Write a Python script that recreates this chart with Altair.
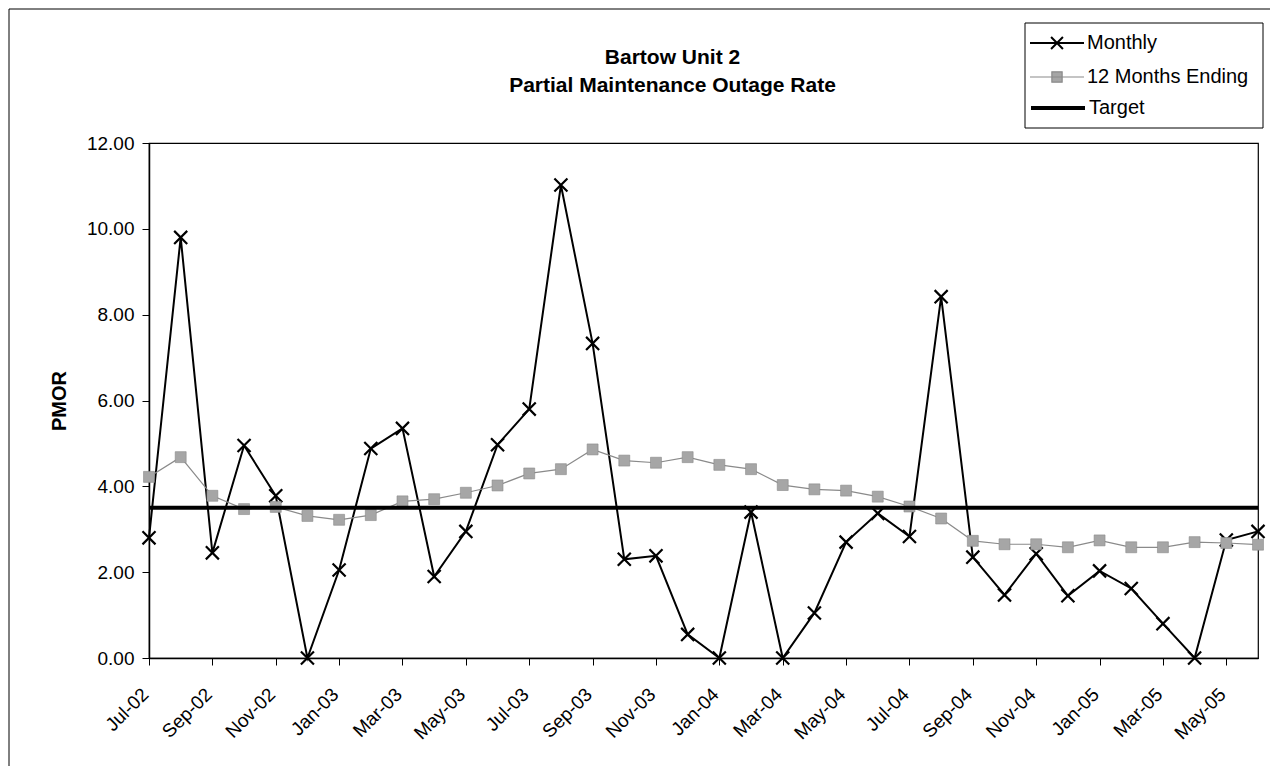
import altair as alt
import pandas as pd

months = ["Jul-02", "Aug-02", "Sep-02", "Oct-02", "Nov-02", "Dec-02",
          "Jan-03", "Feb-03", "Mar-03", "Apr-03", "May-03", "Jun-03",
          "Jul-03", "Aug-03", "Sep-03", "Oct-03", "Nov-03", "Dec-03",
          "Jan-04", "Feb-04", "Mar-04", "Apr-04", "May-04", "Jun-04",
          "Jul-04", "Aug-04", "Sep-04", "Oct-04", "Nov-04", "Dec-04",
          "Jan-05", "Feb-05", "Mar-05", "Apr-05", "May-05", "Jun-05"]

monthly = [2.80, 9.80, 2.45, 4.95, 3.78, 0.00,
           2.05, 4.88, 5.35, 1.90, 2.95, 4.97,
           5.80, 11.02, 7.33, 2.30, 2.38, 0.55,
           0.00, 3.40, 0.00, 1.05, 2.70, 3.37,
           2.83, 8.42, 2.35, 1.47, 2.43, 1.45,
           2.03, 1.62, 0.80, 0.00, 2.75, 2.95]

twelve_months = [4.22, 4.68, 3.78, 3.47, 3.52, 3.31,
                 3.22, 3.33, 3.65, 3.70, 3.85, 4.02,
                 4.30, 4.40, 4.86, 4.60, 4.55, 4.68,
                 4.50, 4.40, 4.03, 3.93, 3.90, 3.76,
                 3.53, 3.25, 2.73, 2.65, 2.65, 2.58,
                 2.74, 2.58, 2.58, 2.70, 2.68, 2.64]

target_value = 3.50
target = [target_value] * len(months)

x_tick_labels = months[::2]
y_ticks = [0, 2, 4, 6, 8, 10, 12]

df_monthly = pd.DataFrame({"month": months, "value": monthly, "series": "Monthly"})
df_twelve = pd.DataFrame({"month": months, "value": twelve_months, "series": "12 Months Ending"})
df_target = pd.DataFrame({"month": months, "value": target, "series": "Target"})

FONT = "Liberation Sans"
GRAY_LINE = "#8a8a8a"
GRAY_FILL = "#a6a6a6"

x_enc = alt.X("month:O", sort=months,
              scale=alt.Scale(type="point", padding=0),
              axis=alt.Axis(values=x_tick_labels, labelAngle=-45, title=None,
                            labelAlign="right", labelBaseline="middle",
                            labelFontSize=19, labelPadding=26, labelOffset=-4,
                            tickSize=7))
y_enc = alt.Y("value:Q", scale=alt.Scale(domain=[0, 12], nice=False),
              axis=alt.Axis(values=y_ticks, format=".2f", title="PMOR",
                            labelFontSize=19, labelPadding=8, tickSize=7,
                            titleFontSize=20, titleFontWeight="bold",
                            titlePadding=17))

line_path = "M-1,0H1"
x_path = "M-1,0H1M-0.22,-0.22L0.22,0.22M-0.22,0.22L0.22,-0.22"
sq_path = "M-1,0H1M-0.19,-0.19H0.19V0.19H-0.19Z"

LEG_X = 880
LEG_SIZE = 2916


def make_legend(path, y, stroke_w, stroke_color=None):
    kw = dict(title=None, orient="none", legendX=LEG_X, legendY=y,
              labelFontSize=20, labelFont=FONT, labelColor="black",
              labelLimit=400,
              padding=0, symbolSize=LEG_SIZE, symbolType=path,
              symbolStrokeWidth=stroke_w, labelOffset=2, symbolOpacity=1)
    if stroke_color:
        kw["symbolStrokeColor"] = stroke_color
    return alt.Legend(**kw)


twelve_line = alt.Chart(df_twelve).mark_line(color=GRAY_LINE, strokeWidth=1.2).encode(
    x=x_enc, y=y_enc)

twelve_pts = alt.Chart(df_twelve).mark_point(
    shape="square", size=120, filled=True, opacity=1,
    stroke=GRAY_LINE, strokeWidth=0.6).encode(
    x=x_enc, y=y_enc,
    color=alt.Color("series:N", scale=alt.Scale(domain=["12 Months Ending"], range=[GRAY_FILL]),
                    legend=make_legend(sq_path, -94, 1.2, GRAY_LINE)))

monthly_line = alt.Chart(df_monthly).mark_line(strokeWidth=2).encode(
    x=x_enc, y=y_enc,
    color=alt.Color("series:N", scale=alt.Scale(domain=["Monthly"], range=["#000000"]),
                    legend=make_legend(x_path, -128, 2)))

monthly_pts = alt.Chart(df_monthly).mark_point(
    shape="M-1,-1L1,1M-1,1L1,-1", size=170, strokeWidth=2.2,
    filled=False, color="#000000", opacity=1).encode(x=x_enc, y=y_enc)

target_line = alt.Chart(df_target).mark_line(strokeWidth=4).encode(
    x=x_enc, y=y_enc,
    color=alt.Color("series:N", scale=alt.Scale(domain=["Target"], range=["#000000"]),
                    legend=make_legend(line_path, -64, 4)))

frame = alt.Chart(df_target).transform_filter(alt.datum.month == "Jul-02").mark_rect(
    fill=None, stroke="black", strokeWidth=1).encode(
    x=alt.value(-140), x2=alt.value(1125), y=alt.value(-134), y2=alt.value(700))

legend_box = alt.Chart(df_target).transform_filter(alt.datum.month == "Jul-02").mark_rect(
    fill="white", stroke="black", strokeWidth=1).encode(
    x=alt.value(876), x2=alt.value(1114), y=alt.value(-120), y2=alt.value(-15))

chart = alt.layer(frame, legend_box, monthly_line, monthly_pts, twelve_line, twelve_pts,
                  target_line).resolve_scale(color="independent").properties(
    width=1109, height=515,
    title=alt.TitleParams(["Bartow Unit 2", "Partial Maintenance Outage Rate"],
                          fontSize=21, fontWeight="bold", font=FONT, color="black",
                          anchor="middle", dx=-31, dy=87, offset=0, lineHeight=28),
    padding={"left": 141, "top": 135, "right": 12, "bottom": 108},
    autosize=alt.AutoSizeParams(type="none"),
).configure_axis(
    grid=False, domainColor="black", tickColor="black", labelColor="black",
    titleColor="black", labelFont=FONT, titleFont=FONT, domainWidth=1.5,
).configure_view(stroke="black", strokeWidth=1.2)

chart.save("out.html", embed_options={"renderer": "svg", "actions": False})
